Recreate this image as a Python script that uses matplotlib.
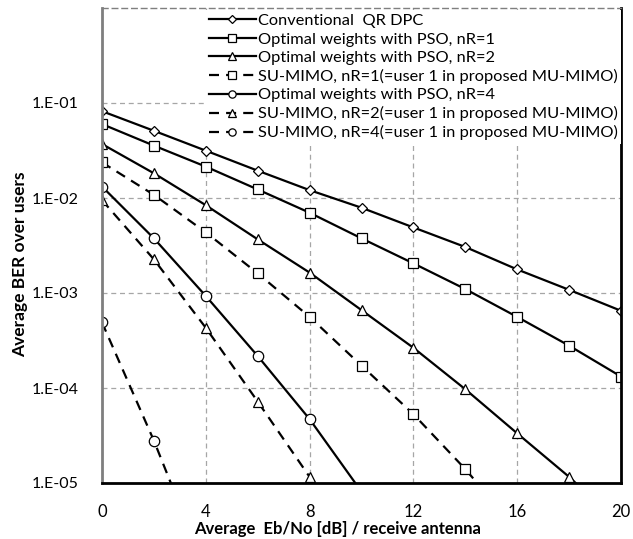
import matplotlib
matplotlib.use("Agg")
import matplotlib.pyplot as plt
import numpy as np

plt.rcParams['font.family'] = ['Lato', 'DejaVu Sans']

snr = [0, 2, 4, 6, 8, 10, 12, 14, 16, 18, 20]
conv_qr = [8.2e-2, 5.1e-2, 3.15e-2, 1.94e-2, 1.21e-2, 7.9e-3, 4.9e-3, 3.05e-3, 1.77e-3, 1.08e-3, 6.5e-4]
pso_nr1 = [6.0e-2, 3.56e-2, 2.14e-2, 1.23e-2, 7.0e-3, 3.76e-3, 2.05e-3, 1.10e-3, 5.6e-4, 2.79e-4, 1.32e-4]
pso_nr2 = [3.7e-2, 1.82e-2, 8.4e-3, 3.67e-3, 1.64e-3, 6.6e-4, 2.65e-4, 9.7e-5, 3.33e-5, 1.16e-5, 3.6e-6]
su_nr1_x = [0, 2, 4, 6, 8, 10, 12, 14, 16]
su_nr1 = [2.37e-2, 1.08e-2, 4.35e-3, 1.61e-3, 5.6e-4, 1.72e-4, 5.3e-5, 1.4e-5, 3.2e-6]
pso_nr4_x = [0, 2, 4, 6, 8, 10]
pso_nr4 = [1.32e-2, 3.76e-3, 9.3e-4, 2.17e-4, 4.7e-5, 8.1e-6]
su_nr2_x = [0, 2, 4, 6, 8, 10]
su_nr2 = [9.5e-3, 2.26e-3, 4.3e-4, 7.2e-5, 1.16e-5, 2.1e-6]
su_nr4_x = [0, 2, 4]
su_nr4 = [4.9e-4, 2.79e-5, 1.2e-6]

labels = ["Conventional  QR DPC",
          "Optimal weights with PSO, nR=1",
          "Optimal weights with PSO, nR=2",
          "SU-MIMO, nR=1(=user 1 in proposed MU-MIMO)",
          "Optimal weights with PSO, nR=4",
          "SU-MIMO, nR=2(=user 1 in proposed MU-MIMO)",
          "SU-MIMO, nR=4(=user 1 in proposed MU-MIMO)"]

xticks = [0, 4, 8, 12, 16, 20]
yticks = [1e-5, 1e-4, 1e-3, 1e-2, 1e-1]
ytick_labels = ["1.E-05", "1.E-04", "1.E-03", "1.E-02", "1.E-01"]

fig = plt.figure(figsize=(6.33, 5.39), dpi=100)
ax = fig.add_axes([102/633, 56/539, 519/633, 475/539])

dash = (0, (4.5, 3.2))
common = dict(color='black', lw=1.6, markerfacecolor='white', markeredgecolor='black',
              markeredgewidth=0.9, clip_on=True)
ax.plot(snr, conv_qr, marker='D', ms=5.5, ls='-', label=labels[0], **common)
ax.plot(snr, pso_nr1, marker='s', ms=7.5, ls='-', label=labels[1], **common)
ax.plot(snr, pso_nr2, marker='^', ms=7.5, ls='-', label=labels[2], **common)
ax.plot(su_nr1_x, su_nr1, marker='s', ms=7.5, ls=dash, label=labels[3], **common)
ax.plot(pso_nr4_x, pso_nr4, marker='o', ms=7.5, ls='-', label=labels[4], **common)
ax.plot(su_nr2_x, su_nr2, marker='^', ms=7.5, ls=dash, label=labels[5], **common)
ax.plot(su_nr4_x, su_nr4, marker='o', ms=7.5, ls=dash, label=labels[6], **common)

ax.set_yscale('log')
ax.set_xlim(0, 20)
ax.set_ylim(1e-5, 1e0)
ax.set_xticks(xticks)
ax.set_xticklabels([str(v) for v in xticks])
ax.set_yticks(yticks)
ax.set_yticklabels(ytick_labels)
ax.minorticks_off()
ax.tick_params(axis='x', length=0, labelsize=12, pad=15)
ax.tick_params(axis='y', length=0, labelsize=11.5, pad=17)
ax.grid(True, which='major', color='#a6a6a6', ls=(0, (4, 3)), lw=0.9)
ax.set_axisbelow(True)

ax.spines['top'].set_linestyle((0, (4, 3)))
ax.spines['top'].set_color('#7f7f7f')
ax.spines['top'].set_linewidth(1.0)
ax.spines['left'].set_color('#7f7f7f')
ax.spines['left'].set_linewidth(2.0)
ax.spines['bottom'].set_color('black')
ax.spines['bottom'].set_linewidth(2.0)
ax.spines['right'].set_color('black')
ax.spines['right'].set_linewidth(2.0)

leg = ax.legend(loc='upper right', bbox_to_anchor=(1.0, 0.995), borderaxespad=0.0,
                fontsize=11.8, frameon=True, fancybox=False, facecolor='white',
                edgecolor='none', framealpha=1.0, labelspacing=0.24,
                handlelength=2.9, handletextpad=0.1, borderpad=0.2, markerscale=0.7)

fig.text(338/633, 1 - 529/539, "Average  Eb/No [dB] / receive antenna", ha='center', va='center',
         fontsize=12, fontweight='bold')
fig.text(20/633, 1 - 264/539, "Average BER over users", ha='center', va='center',
         rotation=90, fontsize=12.5, fontweight='bold')

fig.savefig("out.png", dpi=100)
